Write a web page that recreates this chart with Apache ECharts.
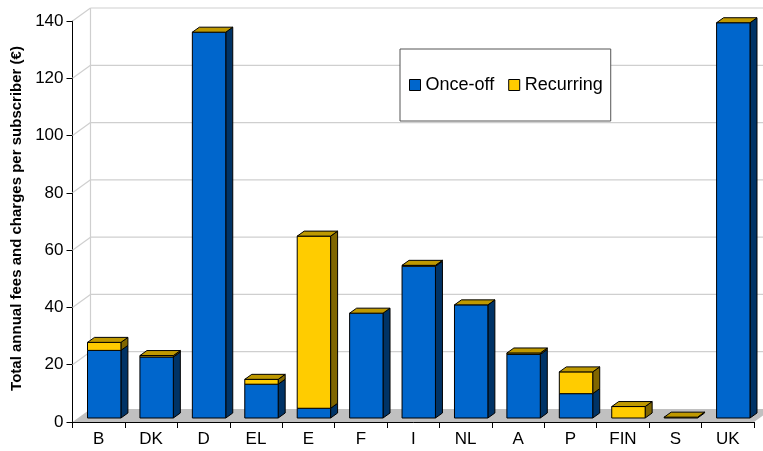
<!DOCTYPE html>
<html>
<head>
<meta charset="utf-8">
<script src="https://cdn.jsdelivr.net/npm/echarts@6/dist/echarts.min.js"></script>
<style>html,body{margin:0;padding:0;background:#fff}#c{width:763px;height:451px}</style>
</head>
<body>
<div id="c"></div>
<script>
var categories = ['B','DK','D','EL','E','F','I','NL','A','P','FIN','S','UK'];
var onceOff    = [23.6, 21.3, 134.7, 11.8, 3.4, 36.6, 53.0, 39.5, 22.2, 8.5, 0, 0, 138.0];
var recurring  = [2.8, 0.5, 0, 1.7, 60.1, 0, 0.3, 0, 0.5, 7.6, 4.0, 0.3, 0];
var yTicks     = [0, 20, 40, 60, 80, 100, 120, 140];
var seriesNames = ['Once-off', 'Recurring'];

var FONT = 'Liberation Sans, Arial, sans-serif';
var WALL_DX = 18, WALL_DY = -13;
var FRONT_DX = 5.5, FRONT_DY = -4;
var BACK_DX = 12.5, BACK_DY = -9;
var HALF_W = 16.7;

var COLORS = {
  once: {front: '#0066CC', side: '#003366', top: '#0052A3'},
  rec:  {front: '#FFCC00', side: '#806600', top: '#BF9900'}
};

function barRenderer(col, drawTop) {
  return function (params, api) {
    var i = api.value(0), lo = api.value(1), hi = api.value(2);
    if (hi - lo <= 0 && !drawTop) return null;
    var pb = api.coord([i, lo]), pt = api.coord([i, hi]);
    var cx = pb[0] + FRONT_DX;
    var l = cx - HALF_W, r = cx + HALF_W;
    var yb = pb[1] + FRONT_DY, yt = pt[1] + FRONT_DY;
    var dx = BACK_DX - FRONT_DX, dy = BACK_DY - FRONT_DY;
    var stroke = {stroke: '#000', lineWidth: 1, lineJoin: 'round'};
    var children = [];
    if (hi - lo > 0) {
      children.push({type: 'polygon', shape: {points: [[r, yt], [r + dx, yt + dy], [r + dx, yb + dy], [r, yb]]},
        style: Object.assign({fill: col.side}, stroke)});
      children.push({type: 'polygon', shape: {points: [[l, yt], [r, yt], [r, yb], [l, yb]]},
        style: Object.assign({fill: col.front}, stroke)});
    }
    if (drawTop) {
      children.push({type: 'polygon', shape: {points: [[l, yt], [r, yt], [r + dx, yt + dy], [l + dx, yt + dy]]},
        style: Object.assign({fill: col.top}, stroke)});
    }
    return {type: 'group', children: children};
  };
}

function wallRenderer(params, api) {
  var cs = params.coordSys;
  var v = api.value(1);
  var y = api.coord([0, v])[1];
  var x0 = cs.x, x1 = cs.x + cs.width;
  var gridStyle = {stroke: '#CFCFCF', lineWidth: 1.2};
  var children = [];
  if (v === 0) {
    children.push({type: 'polygon', shape: {points: [[x0, y], [x1, y], [x1 + WALL_DX, y + WALL_DY], [x0 + WALL_DX, y + WALL_DY]]},
      style: {fill: '#C0C0C0'}});
    children.push({type: 'line', shape: {x1: x0 + WALL_DX, y1: cs.y + WALL_DY, x2: x0 + WALL_DX, y2: y + WALL_DY}, style: gridStyle});
  } else {
    children.push({type: 'line', shape: {x1: x0, y1: y, x2: x0 + WALL_DX, y2: y + WALL_DY}, style: gridStyle});
    children.push({type: 'line', shape: {x1: x0 + WALL_DX, y1: y + WALL_DY, x2: x1 + WALL_DX + 40, y2: y + WALL_DY}, style: gridStyle});
  }
  return {type: 'group', children: children};
}

var chart = echarts.init(document.getElementById('c'), null, {renderer: 'canvas'});
chart.setOption({
  animation: false,
  backgroundColor: '#fff',
  textStyle: {fontFamily: FONT},
  grid: {left: 72.5, right: 9, top: 21, bottom: 29, containLabel: false},
  legend: {
    left: 400, top: 49,
    orient: 'horizontal',
    backgroundColor: '#fff',
    borderColor: '#555', borderWidth: 1,
    padding: [27, 8, 27, 9],
    itemWidth: 11, itemHeight: 11, itemGap: 14,
    textStyle: {fontSize: 18, color: '#000', fontFamily: FONT, padding: [2, 0, 0, 0]},
    data: [
      {name: seriesNames[0], icon: 'rect', itemStyle: {color: COLORS.once.front, borderColor: '#000', borderWidth: 1}},
      {name: seriesNames[1], icon: 'rect', itemStyle: {color: COLORS.rec.front, borderColor: '#000', borderWidth: 1}}
    ]
  },
  xAxis: {
    type: 'category',
    data: categories,
    boundaryGap: true,
    axisLine: {lineStyle: {color: '#000', width: 1}},
    axisTick: {show: true, length: 6, lineStyle: {color: '#000'}},
    axisLabel: {fontSize: 17, color: '#000', margin: 9, fontFamily: FONT},
    splitLine: {show: false}
  },
  yAxis: {
    type: 'value',
    min: 0, max: 140, interval: 20,
    name: 'Total annual fees and charges per subscriber (€)',
    nameLocation: 'middle',
    nameGap: 43,
    nameTextStyle: {fontSize: 15, fontWeight: 'bold', color: '#000', fontFamily: FONT, padding: [0, 0, 0, 6]},
    axisLine: {show: true, lineStyle: {color: '#000', width: 1}},
    axisTick: {show: true, length: 6, lineStyle: {color: '#000'}},
    axisLabel: {fontSize: 17, color: '#000', margin: 9, fontFamily: FONT},
    splitLine: {show: false}
  },
  series: [
    {
      type: 'custom', name: '_wall', silent: true, clip: false, z: 1,
      renderItem: wallRenderer,
      encode: {x: 0, y: 1},
      data: yTicks.map(function (v) { return [0, v]; })
    },
    {
      type: 'custom', name: seriesNames[0], clip: false, z: 3,
      color: COLORS.once.front,
      renderItem: barRenderer(COLORS.once, false),
      encode: {x: 0, y: [1, 2]},
      data: categories.map(function (c, i) { return [i, 0, onceOff[i]]; })
    },
    {
      type: 'custom', name: seriesNames[1], clip: false, z: 4,
      color: COLORS.rec.front,
      renderItem: barRenderer(COLORS.rec, true),
      encode: {x: 0, y: [1, 2]},
      data: categories.map(function (c, i) { return [i, onceOff[i], onceOff[i] + recurring[i]]; })
    }
  ]
});
</script>
</body>
</html>
